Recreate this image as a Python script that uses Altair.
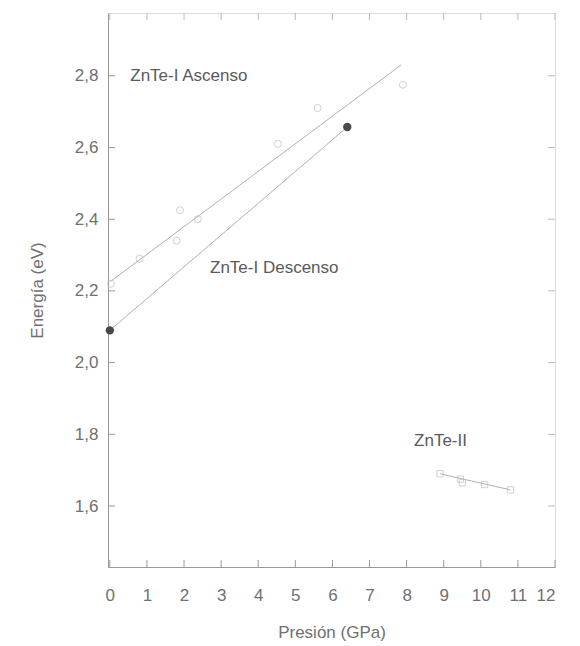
import altair as alt
import pandas as pd

# ZnTe-I Ascenso (open circles)
asc_p = [0.03, 0.8, 1.8, 1.89, 2.37, 4.53, 5.6, 7.9]
asc_e = [2.22, 2.29, 2.34, 2.425, 2.40, 2.61, 2.71, 2.775]
# ZnTe-I Descenso (filled circles)
desc_p = [0.0, 6.4]
desc_e = [2.09, 2.657]
# ZnTe-II (open squares)
ii_p = [8.9, 9.45, 9.5, 10.1, 10.8]
ii_e = [1.69, 1.675, 1.665, 1.66, 1.645]
# fitted lines (endpoints)
asc_line_p = [0.0, 7.85]
asc_line_e = [2.225, 2.83]
desc_line_p = [0.0, 6.4]
desc_line_e = [2.09, 2.657]
ii_line_p = [8.9, 10.8]
ii_line_e = [1.69, 1.645]

labels_txt = ["ZnTe-I Ascenso", "ZnTe-I Descenso", "ZnTe-II"]
labels_p = [0.55, 2.7, 8.2]
labels_e = [2.8, 2.265, 1.78]

x_ticks = list(range(0, 13))
y_ticks = [1.6, 1.8, 2.0, 2.2, 2.4, 2.6, 2.8]

W, H = 447, 554
FONT = "Liberation Sans"
GRAY = "#707070"

xs = alt.Scale(domain=[-0.05, 12], nice=False, zero=False)
ys = alt.Scale(domain=[1.43, 2.975], nice=False, zero=False)

xax = alt.Axis(values=x_ticks, title="Presión (GPa)", ticks=False, labelFontSize=17,
               titleFontSize=17, labelColor=GRAY, titleColor=GRAY, labelFont=FONT,
               titleFont=FONT, titleFontWeight="normal", domainColor="#999", grid=False,
               labelPadding=20, titlePadding=21, format="d", labelOverlap=False,
               labelSeparation=0)
yax = alt.Axis(values=y_ticks, title="Energía (eV)", ticks=False, labelFontSize=17,
               titleFontSize=17, labelColor=GRAY, titleColor=GRAY, labelFont=FONT,
               titleFont=FONT, titleFontWeight="normal", domainColor="#999", grid=False,
               labelPadding=10, titlePadding=28, labelOverlap=False,
               labelExpr="replace(format(datum.value, '.1f'), '.', ',')")

X = alt.X("p:Q", scale=xs, axis=xax)
Y = alt.Y("e:Q", scale=ys, axis=yax)

asc = pd.DataFrame({"p": asc_p, "e": asc_e})
desc = pd.DataFrame({"p": desc_p, "e": desc_e})
ii = pd.DataFrame({"p": ii_p, "e": ii_e})

def line_df(p, e):
    return pd.DataFrame({"p": p, "e": e})

LC = "#b0b0b0"
lines = alt.layer(
    alt.Chart(line_df(asc_line_p, asc_line_e)).mark_line(color=LC, strokeWidth=1).encode(x=X, y=Y),
    alt.Chart(line_df(desc_line_p, desc_line_e)).mark_line(color=LC, strokeWidth=1).encode(x=X, y=Y),
    alt.Chart(line_df(ii_line_p, ii_line_e)).mark_line(color=LC, strokeWidth=1).encode(x=X, y=Y),
)

asc_pts = alt.Chart(asc).mark_point(shape="circle", filled=False, size=50, color="#bdbdbd", strokeWidth=1).encode(x=X, y=Y)
desc_pts = alt.Chart(desc).mark_point(shape="circle", filled=True, size=70, color="#4a4a4a", opacity=1).encode(x=X, y=Y)
ii_pts = alt.Chart(ii).mark_point(shape="square", filled=False, size=40, color="#bdbdbd", strokeWidth=1).encode(x=X, y=Y)

txt = alt.Chart(pd.DataFrame({"t": labels_txt, "p": labels_p, "e": labels_e})).mark_text(
    align="left", baseline="middle", fontSize=17, font=FONT, color="#5a5a5a"
).encode(x=X, y=Y, text="t:N")

# inward ticks
xt = pd.DataFrame({"p": x_ticks})
yt = pd.DataFrame({"e": y_ticks})
xtick_b = alt.Chart(xt).mark_rule(color="#999", strokeWidth=1).encode(x=X, y=alt.value(H), y2=alt.value(H - 7))
xtick_t = alt.Chart(xt).mark_rule(color="#bbb", strokeWidth=1).encode(x=X, y=alt.value(0), y2=alt.value(7))
ytick_l = alt.Chart(yt).mark_rule(color="#999", strokeWidth=1).encode(y=Y, x=alt.value(0), x2=alt.value(7))
ytick_r = alt.Chart(yt).mark_rule(color="#bbb", strokeWidth=1).encode(y=Y, x=alt.value(W), x2=alt.value(W - 7))

chart = alt.layer(lines, xtick_b, xtick_t, ytick_l, ytick_r, asc_pts, desc_pts, ii_pts, txt).properties(
    width=W, height=H,
    autosize=alt.AutoSizeParams(type="none"),
    padding={"left": 100, "top": 5, "right": 17, "bottom": 75},
).configure_view(stroke="#c4c4c4", strokeWidth=1).configure_axis(
    labelOverlap=False, labelSeparation=0
).configure(background="white")

chart.save("out.html", embed_options={"renderer": "svg", "actions": False})
